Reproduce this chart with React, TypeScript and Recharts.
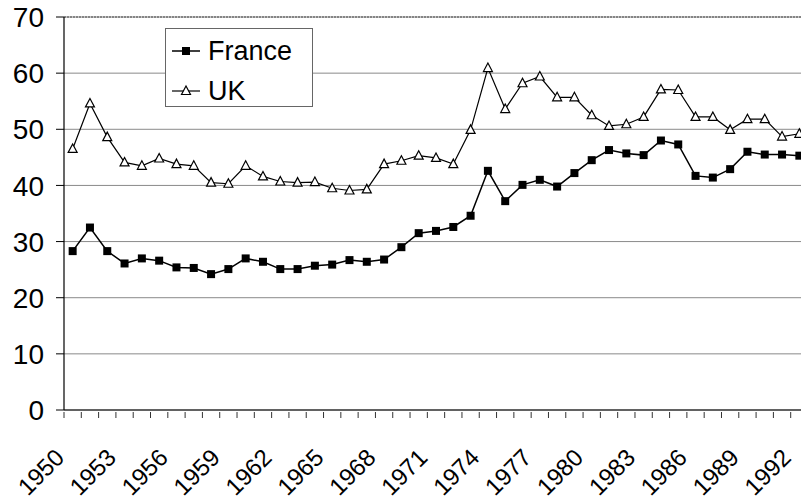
import React from 'react';
import { LineChart, Line, XAxis, YAxis, CartesianGrid, Legend, ReferenceLine } from 'recharts';

const years = [
  1950, 1951, 1952, 1953, 1954, 1955, 1956, 1957, 1958, 1959,
  1960, 1961, 1962, 1963, 1964, 1965, 1966, 1967, 1968, 1969,
  1970, 1971, 1972, 1973, 1974, 1975, 1976, 1977, 1978, 1979,
  1980, 1981, 1982, 1983, 1984, 1985, 1986, 1987, 1988, 1989,
  1990, 1991, 1992,
];

const france = [
  28.3, 32.5, 28.3, 26.1, 27.0, 26.6, 25.4, 25.3, 24.2, 25.1,
  27.0, 26.4, 25.1, 25.1, 25.7, 25.9, 26.7, 26.4, 26.8, 29.0,
  31.5, 31.9, 32.6, 34.6, 42.6, 37.2, 40.1, 41.0, 39.8, 42.2,
  44.5, 46.3, 45.7, 45.4, 48.0, 47.3, 41.7, 41.4, 42.9, 46.0,
  45.5, 45.5, 45.3,
];

const uk = [
  46.5, 54.6, 48.6, 44.1, 43.5, 44.8, 43.8, 43.5, 40.5, 40.3,
  43.5, 41.6, 40.7, 40.5, 40.6, 39.5, 39.1, 39.3, 43.8, 44.4,
  45.3, 44.9, 43.8, 49.9, 60.9, 53.6, 58.2, 59.4, 55.7, 55.7,
  52.5, 50.6, 50.9, 52.2, 57.1, 57.0, 52.2, 52.2, 49.9, 51.8,
  51.8, 48.7, 49.2,
];

const yTicks = [0, 10, 20, 30, 40, 50, 60, 70];
const labelYears = [1950, 1953, 1956, 1959, 1962, 1965, 1968, 1971, 1974, 1977, 1980, 1983, 1986, 1989, 1992];
const seriesNames = ['France', 'UK'];

const data = years.map((y, i) => ({ year: String(y), France: france[i], UK: uk[i] }));

const FONT = '"Liberation Sans", Arial, sans-serif';
const VIEW_W = 801;
const W = 808;
const H = 502;
const YAXIS_W = 64;
const RIGHT = 0;
const BAND = (W - YAXIS_W - RIGHT) / years.length;

const SquareDot = (props: any) => {
  const { cx, cy } = props;
  if (cx == null || cy == null) return null;
  return <rect x={cx - 4} y={cy - 4} width={8} height={8} fill="#000" />;
};

const TriDot = (props: any) => {
  const { cx, cy } = props;
  if (cx == null || cy == null) return null;
  return (
    <polygon
      points={`${cx},${cy - 5} ${cx - 4.5},${cy + 3.5} ${cx + 4.5},${cy + 3.5}`}
      fill="#fff"
      stroke="#000"
      strokeWidth={1.2}
    />
  );
};

const XTick = (props: any) => {
  const { x, y, payload, index } = props;
  const half = payload && typeof payload.offset === 'number' && payload.offset > 0 ? payload.offset : BAND / 2;
  const val = Number(payload.value);
  const show = labelYears.includes(val);
  const last = index === years.length - 1;
  return (
    <g>
      <line x1={x - half} y1={y} x2={x - half} y2={y + 6} stroke="#333" strokeWidth={1} />
      {last && <line x1={x + half} y1={y} x2={x + half} y2={y + 6} stroke="#333" strokeWidth={1} />}
      {show && (
        <text
          transform={`translate(${x - 7},${y + 47}) rotate(-45)`}
          textAnchor="end"
          fontSize={24}
          fontFamily={FONT}
          fill="#000"
        >
          {payload.value}
        </text>
      )}
    </g>
  );
};

const YTick = (props: any) => {
  const { y, payload } = props;
  return (
    <text x={44} y={y} dy="0.36em" textAnchor="end" fontSize={28} fontFamily={FONT} fill="#000">
      {payload.value}
    </text>
  );
};

const LegendBox = () => (
  <svg width={149} height={80} style={{ display: 'block', overflow: 'visible' }}>
    <rect x={0.5} y={0.5} width={147} height={78} fill="#fff" stroke="#666" strokeWidth={1} />
    <line x1={7} y1={23} x2={35} y2={23} stroke="#000" strokeWidth={1.5} />
    <rect x={17} y={19} width={8} height={8} fill="#000" />
    <text x={43} y={32} fontSize={27} fontFamily={FONT} fill="#000">{seriesNames[0]}</text>
    <line x1={7} y1={63} x2={35} y2={63} stroke="#000" strokeWidth={1.2} />
    <polygon points="21,58 16.5,66.5 25.5,66.5" fill="#fff" stroke="#000" strokeWidth={1.2} />
    <text x={43} y={72} fontSize={27} fontFamily={FONT} fill="#000">{seriesNames[1]}</text>
  </svg>
);

export default function App() {
  return (
    <div style={{ position: 'absolute', left: 0, top: 0, width: VIEW_W, height: H, overflow: 'hidden', background: '#fff' }}>
      <LineChart width={W} height={H} data={data} margin={{ top: 17, right: RIGHT, left: 0, bottom: 0 }}>
        <CartesianGrid horizontal vertical={false} stroke="#8a8a8a" strokeWidth={1} />
        <ReferenceLine y={70} stroke="#444" strokeWidth={1} strokeDasharray="2 1" />
        <XAxis
          dataKey="year"
          scale="band"
          interval={0}
          tickSize={0}
          tickLine={false}
          axisLine={{ stroke: '#000', strokeWidth: 1.2 }}
          height={92}
          tick={<XTick />}
        />
        <YAxis
          type="number"
          domain={[0, 70]}
          ticks={yTicks}
          width={YAXIS_W}
          tickSize={8}
          tickLine={{ stroke: '#000' }}
          axisLine={{ stroke: '#000', strokeWidth: 1.2 }}
          tick={<YTick />}
          interval={0}
        />
        <Legend
          layout="horizontal"
          verticalAlign="middle"
          align="center"
          wrapperStyle={{ position: 'absolute', left: 165, top: 28, width: 149, height: 80 }}
          content={() => <LegendBox />}
        />
        <Line
          type="linear"
          dataKey="France"
          stroke="#000"
          strokeWidth={1.5}
          dot={<SquareDot />}
          activeDot={false}
          isAnimationActive={false}
        />
        <Line
          type="linear"
          dataKey="UK"
          stroke="#000"
          strokeWidth={1.2}
          dot={<TriDot />}
          activeDot={false}
          isAnimationActive={false}
        />
      </LineChart>
    </div>
  );
}
